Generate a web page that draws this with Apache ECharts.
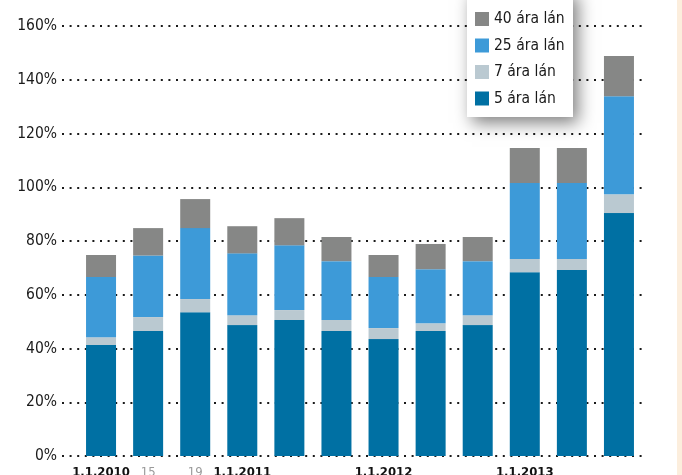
<!DOCTYPE html>
<html>
<head>
<meta charset="utf-8">
<script src="https://cdn.jsdelivr.net/npm/echarts@6/dist/echarts.min.js"></script>
<style>
html,body{margin:0;padding:0;background:#fff;}
#c{width:682px;height:475px;}
</style>
</head>
<body>
<div id="c"></div>
<script>
var categories = ['2010-01','2010-15','2010-19','2011-01','2011-a','2011-b','2012-01','2012-a','2012-b','2013-01','2013-a','2013-b'];
var tickLabels = ['1.1.2010','15','19','1.1.2011','','','1.1.2012','','','1.1.2013','',''];
var minorTicks = [false,true,true,false,false,false,false,false,false,false,false,false];
var yTicks = [0,20,40,60,80,100,120,140,160];
var names = ['5 ára lán','7 ára lán','25 ára lán','40 ára lán'];
var lan5  = [41.3,46.5,53.5,48.7,50.6,46.5,43.5,46.5,48.7,68.4,69.2,90.4];
var lan7  = [2.9, 5.2, 4.9, 3.7, 3.7, 4.1, 4.1, 2.9, 3.7, 4.9, 4.1, 7.0];
var lan25 = [22.4,22.9,26.4,23.0,24.1,21.9,19.0,20.1,20.1,28.3,28.3,36.5];
var lan40 = [8.2,10.2,10.8,10.1,10.1,9.0, 8.2, 9.4, 9.0, 13.0,13.0,14.9];

var FONT = '"Liberation Sans Narrow","DejaVu Sans Condensed","Roboto","Noto Sans",sans-serif';
var colors = ['#0070A3','#BAC9D1','#3D9AD8','#868786'];
var seriesData = [lan5, lan7, lan25, lan40];

var chart = echarts.init(document.getElementById('c'), null, {renderer:'canvas'});
var series = names.map(function(n,i){
  return {
    name: n, type: 'bar', stack: 'total', xAxisIndex: 1, yAxisIndex: 1,
    barWidth: 30, data: seriesData[i], itemStyle: {color: colors[i]},
    emphasis: {disabled: true}, animation: false, z: 3
  };
});
chart.setOption({
  animation: false,
  grid: [
    {left: 62, right: 35, top: 26, bottom: 19, containLabel: false, outerBoundsMode: 'none'},
    {left: 77.5, right: 39.5, top: 26, bottom: 19, containLabel: false, outerBoundsMode: 'none'}
  ],
  xAxis: [
    {gridIndex: 0, type: 'value', show: false, min: 0, max: 1},
    {gridIndex: 1, type: 'category', data: categories,
     axisLine: {show: false}, axisTick: {show: false},
     axisLabel: {interval: 0, margin: 10,
       formatter: function(v, i){
         var t = tickLabels[i];
         if (!t) return '';
         return minorTicks[i] ? '{g|' + t + '}' : '{b|' + t + '}';
       },
       rich: {
         b: {fontFamily: FONT, fontSize: 13, fontWeight: 'bold', color: '#111'},
         g: {fontFamily: FONT, fontSize: 13, color: '#9a9a9a'}
       }
     }}
  ],
  yAxis: [
    {gridIndex: 0, type: 'value', min: 0, max: 160, interval: 20,
     axisLine: {show: false}, axisTick: {show: false},
     axisLabel: {formatter: '{value}%', fontFamily: FONT, fontSize: 15.5, color: '#1a1a1a', margin: 5},
     splitLine: {show: true, lineStyle: {color: '#1a1a1a', width: 2, type: [2, 5.6]}}},
    {gridIndex: 1, type: 'value', min: 0, max: 160, interval: 20, show: false, splitLine: {show: false}}
  ],
  legend: {
    data: ['40 ára lán','25 ára lán','7 ára lán','5 ára lán'],
    orient: 'vertical', left: 475, top: 11, padding: 0,
    itemWidth: 14, itemHeight: 14, itemGap: 10.5, icon: 'rect',
    textStyle: {fontFamily: FONT, fontSize: 15.5, lineHeight: 14, color: '#1a1a1a'},
    selectedMode: false, z: 20
  },
  graphic: [
    {type: 'rect', z: 15, shape: {x: 467, y: -10, width: 106, height: 127},
     style: {fill: '#ffffff', shadowBlur: 16, shadowOffsetX: 5, shadowOffsetY: 6, shadowColor: 'rgba(0,0,0,0.5)'}},
    {type: 'rect', z: 1, shape: {x: 677, y: 0, width: 5, height: 475},
     style: {fill: '#FCEEDD'}}
  ],
  series: series
});
</script>
</body>
</html>
